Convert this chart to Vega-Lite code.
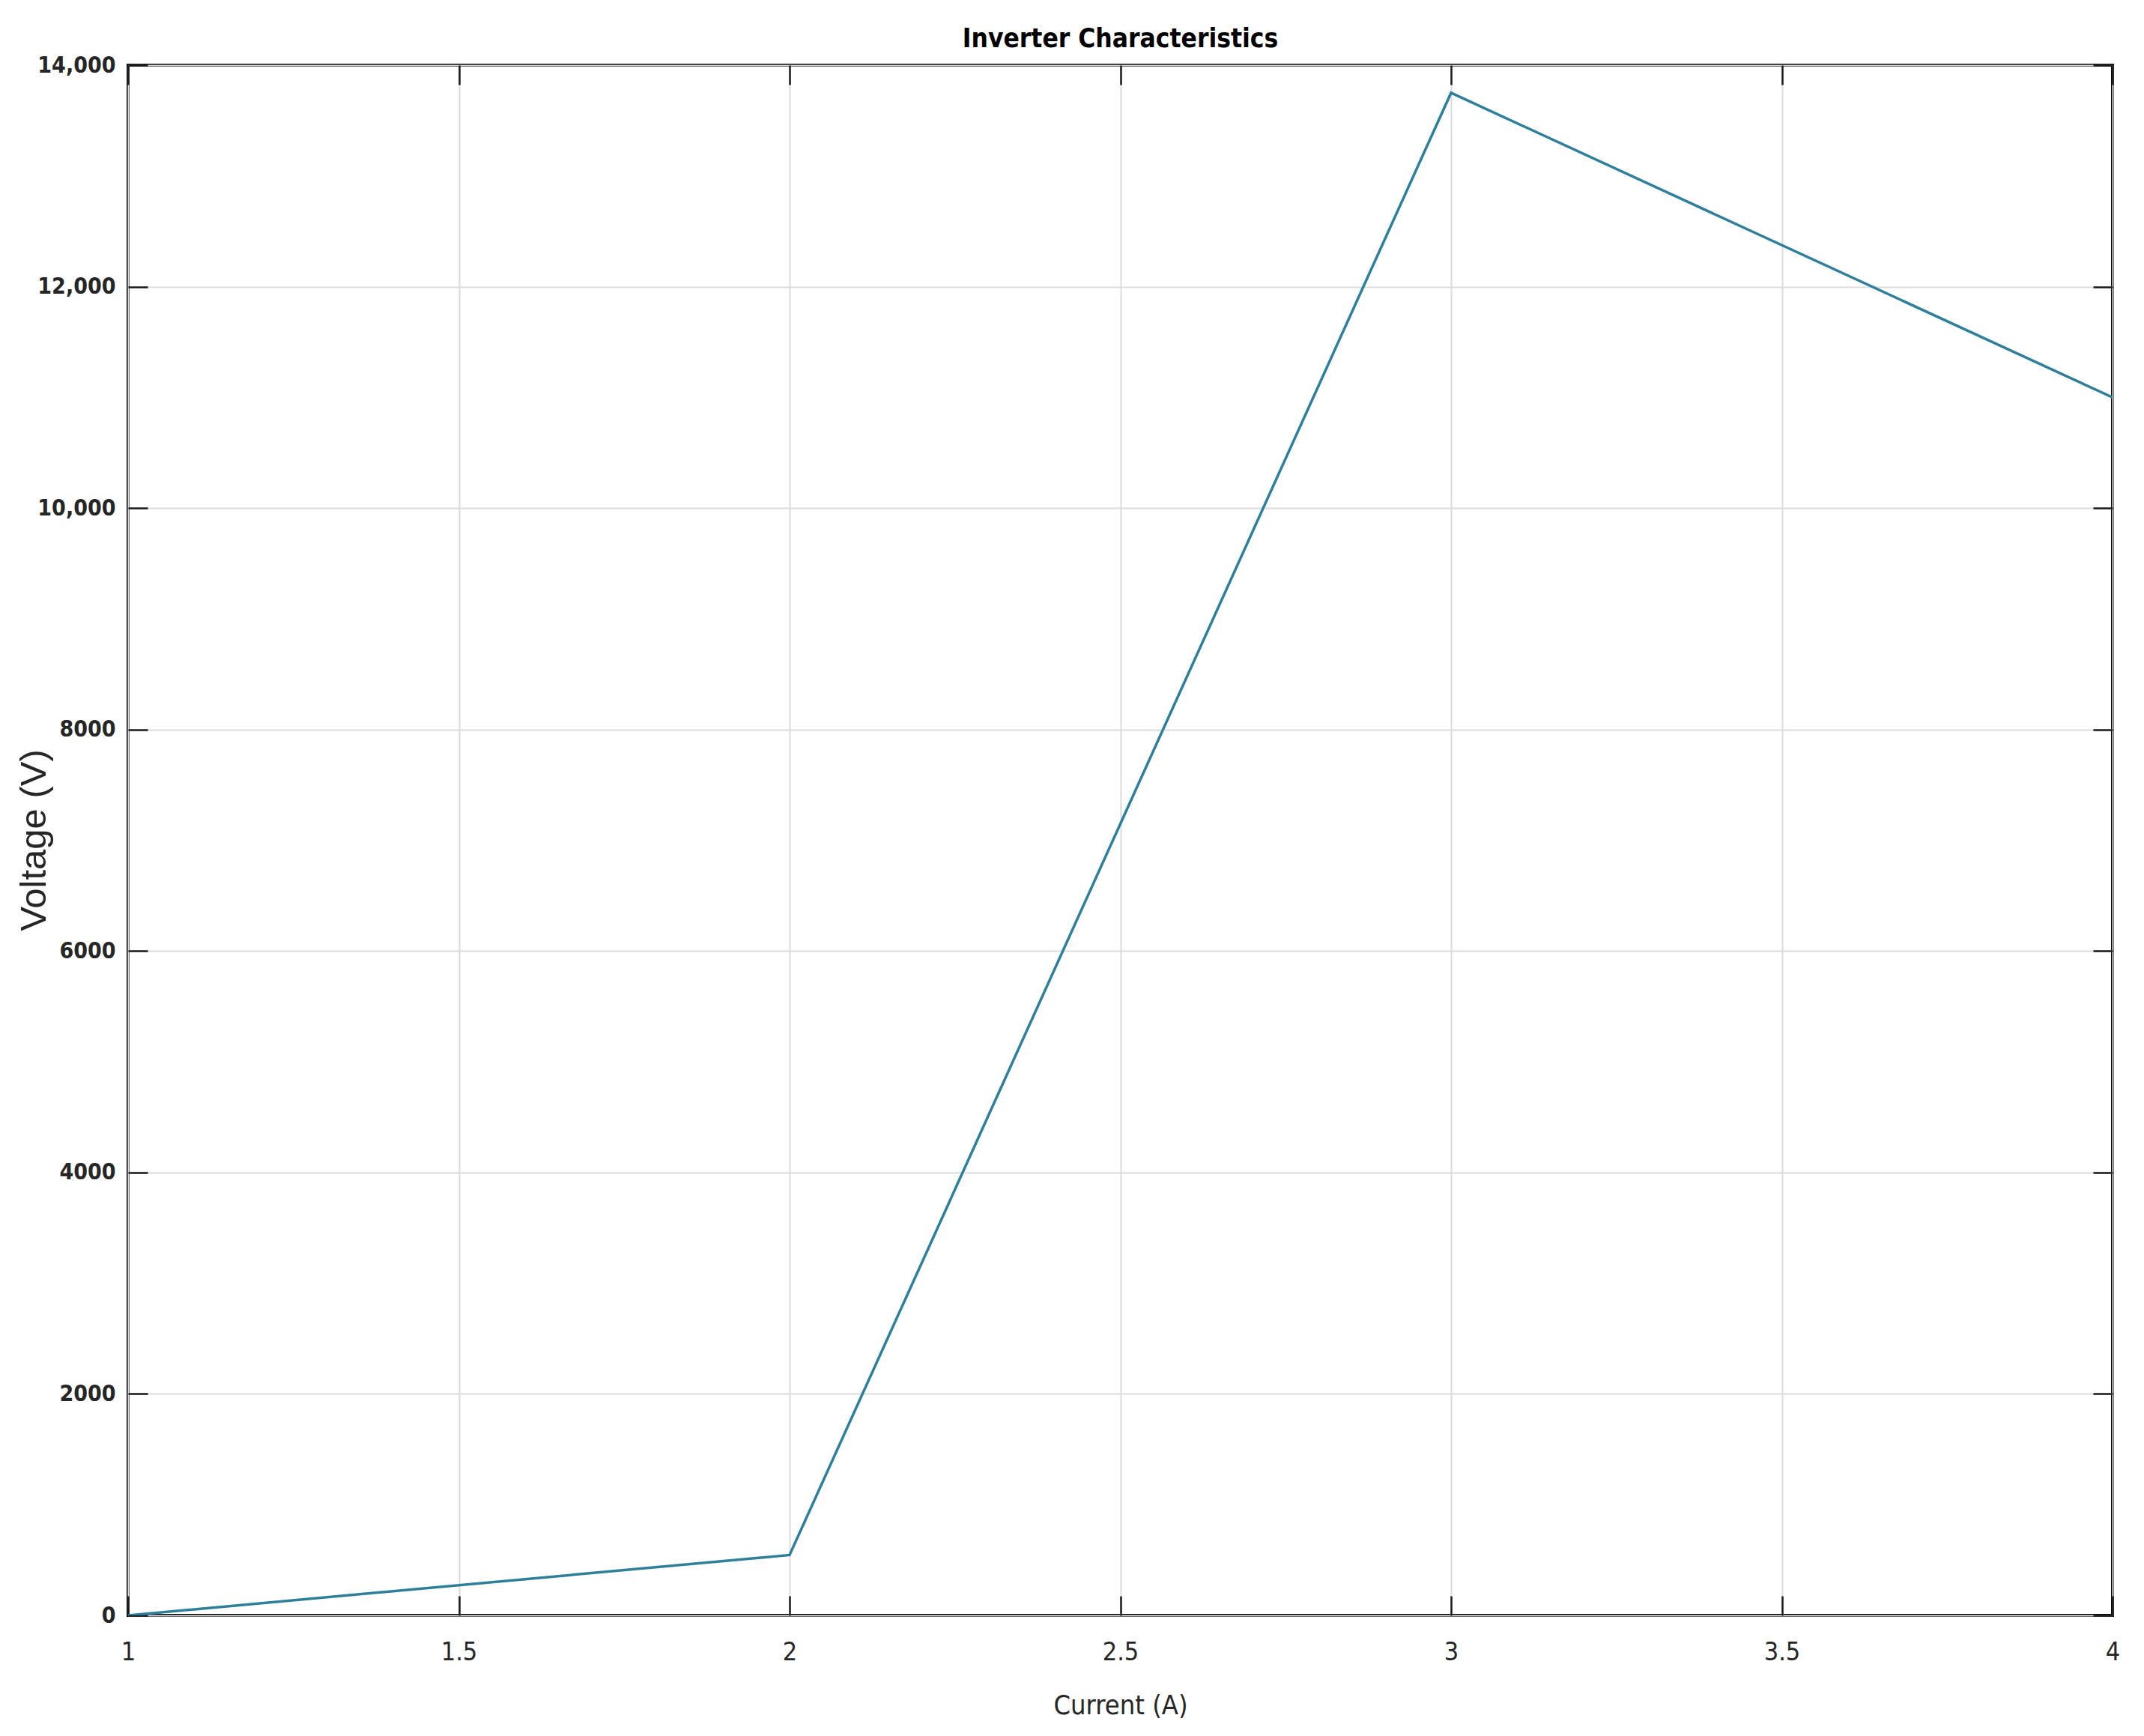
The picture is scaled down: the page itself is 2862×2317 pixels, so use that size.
{
  "$schema": "https://vega.github.io/schema/vega-lite/v6.json",
  "autosize": {"type": "none"},
  "padding": {"left": 171, "top": 87, "right": 42, "bottom": 161},
  "width": 2649,
  "height": 2069,
  "background": "white",
  "view": {"stroke": "#000000", "strokeWidth": 4},
  "title": {
    "text": "Inverter Characteristics",
    "font": "DejaVu Sans Condensed, Liberation Sans",
    "fontSize": 35,
    "fontWeight": "bold",
    "color": "#000000",
    "anchor": "middle",
    "offset": 22,
    "dy": 20
  },
  "config": {
    "view": {"stroke": "#000000", "strokeWidth": 4}
  },
  "data": {
    "values": [
      {"current": 1, "voltage": 0},
      {"current": 2, "voltage": 545},
      {"current": 3, "voltage": 13750},
      {"current": 4, "voltage": 11000}
    ]
  },
  "resolve": {"axis": {"x": "independent", "y": "independent"}},
  "layer": [
    {
      "mark": {"type": "line", "color": "#2d7f9c", "strokeWidth": 3.5, "clip": true},
      "encoding": {
        "x": {
          "field": "current", "type": "quantitative",
          "scale": {"domain": [1, 4], "nice": false, "zero": false},
          "axis": {
            "orient": "bottom",
            "title": "Current (A)",
            "titleFont": "DejaVu Sans Condensed, Liberation Sans",
            "titleFontSize": 36,
            "titleFontWeight": "normal",
            "titleColor": "#262626",
            "titleBaseline": "middle",
            "titleY": 120,
            "values": [1, 1.5, 2, 2.5, 3, 3.5, 4],
            "format": "~g",
            "labelFont": "DejaVu Sans Condensed, Liberation Sans",
            "labelFontSize": 34,
            "labelColor": "#262626",
            "labelPadding": 58,
            "labelFlush": false,
            "tickSize": -26,
            "tickColor": "#1a1a1a",
            "tickWidth": 2.5,
            "domain": false,
            "grid": true,
            "gridColor": "#dcdcdc",
            "gridWidth": 2
          }
        },
        "y": {
          "field": "voltage", "type": "quantitative",
          "scale": {"domain": [0, 14000], "nice": false},
          "axis": {
            "orient": "left",
            "title": "Voltage (V)",
            "titleFont": "Liberation Sans",
            "titleFontSize": 49,
            "titleFontWeight": "normal",
            "titleColor": "#262626",
            "titleBaseline": "middle",
            "titleAngle": -90,
            "titleX": -126,
            "titleY": 1034,
            "values": [0, 2000, 4000, 6000, 8000, 10000, 12000, 14000],
            "labelExpr": "datum.value >= 10000 ? format(datum.value, ',') : format(datum.value, 'd')",
            "labelFont": "DejaVu Sans Condensed, Liberation Sans",
            "labelFontSize": 30,
            "labelFontWeight": "bold",
            "labelColor": "#262626",
            "labelPadding": 43,
            "labelFlush": false,
            "tickSize": -26,
            "tickColor": "#1a1a1a",
            "tickWidth": 2.5,
            "domain": false,
            "grid": true,
            "gridColor": "#dcdcdc",
            "gridWidth": 2
          }
        }
      }
    },
    {
      "mark": {"type": "line", "opacity": 0},
      "encoding": {
        "x": {
          "field": "current", "type": "quantitative",
          "scale": {"domain": [1, 4], "nice": false, "zero": false},
          "axis": {
            "orient": "top", "title": null, "labels": false,
            "values": [1, 1.5, 2, 2.5, 3, 3.5, 4],
            "tickSize": -26, "tickColor": "#1a1a1a", "tickWidth": 2.5,
            "domain": false, "grid": false
          }
        },
        "y": {
          "field": "voltage", "type": "quantitative",
          "scale": {"domain": [0, 14000], "nice": false},
          "axis": {
            "orient": "right", "title": null, "labels": false,
            "values": [0, 2000, 4000, 6000, 8000, 10000, 12000, 14000],
            "tickSize": -26, "tickColor": "#1a1a1a", "tickWidth": 2.5,
            "domain": false, "grid": false
          }
        }
      }
    }
  ]
}
